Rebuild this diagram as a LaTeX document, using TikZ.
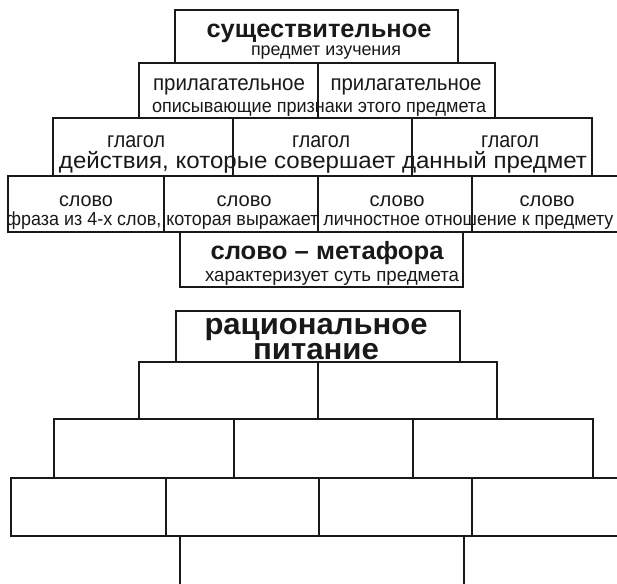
\documentclass[tikz,border=0pt]{standalone}
\usepackage{fontspec}
\usepackage{graphicx}
\setmainfont{Liberation Sans}
\newcommand\fitw[2]{\setbox0=\hbox{#2}\scalebox{\fpeval{#1/\wd0}}[1]{\box0}}
\tikzset{
  brick/.style={draw=black!90, line width=2.7pt, line join=miter},
  lbl/.style={anchor=base, inner sep=0pt, text=black!90},
}
\begin{document}
\begin{tikzpicture}[x=1pt,y=-1pt]
\useasboundingbox[fill=white] (0,0) rectangle (617,583);
% upper pyramid
\draw[brick] (175,10) rectangle (458,63);
\draw[brick] (139,63) rectangle (495,118);
\draw[brick] (318,63) -- (318,118);
\draw[brick] (53,118) rectangle (592,176);
\draw[brick] (233,118) -- (233,176) (412,118) -- (412,176);
\draw[brick] (8,176) rectangle (630,232);
\draw[brick] (164,176) -- (164,232) (318,176) -- (318,232) (472,176) -- (472,232);
\draw[brick] (180,232) rectangle (463,287);
% lower pyramid
\draw[brick] (176,311) rectangle (460,362);
\draw[brick] (139,362) rectangle (497,419);
\draw[brick] (318,362) -- (318,419);
\draw[brick] (54,419) rectangle (593,478);
\draw[brick] (234,419) -- (234,478) (413,419) -- (413,478);
\draw[brick] (11,478) rectangle (630,536);
\draw[brick] (166,478) -- (166,536) (319,478) -- (319,536) (472,478) -- (472,536);
\draw[brick] (180,536) rectangle (464,600);
% texts upper
\node[lbl, align=center, font=\fontsize{18}{18}\selectfont] (n1) at (319,56)
  {\lineskiplimit=-30pt\relax\fitw{225pt}{\bfseries\fontsize{25}{25}\selectfont существительное}\\
   \hspace*{14pt}\fitw{150pt}{предмет изучения}};
\node[lbl, font=\fontsize{22}{22}\selectfont] (a1) at (229,91) {\fitw{152pt}{прилагательное}};
\node[lbl, font=\fontsize{22}{22}\selectfont] (a2) at (406,91) {\fitw{151pt}{прилагательное}};
\node[lbl, font=\fontsize{19}{19}\selectfont] (as) at (319,112) {\fitw{334pt}{описывающие признаки этого предмета}};
\node[lbl, font=\fontsize{22}{22}\selectfont] (g1) at (136,147) {\fitw{58pt}{глагол}};
\node[lbl, font=\fontsize{22}{22}\selectfont] (g2) at (321,147) {\fitw{58pt}{глагол}};
\node[lbl, font=\fontsize{22}{22}\selectfont] (g3) at (510,147) {\fitw{58pt}{глагол}};
\node[lbl, font=\fontsize{23}{23}\selectfont] (gs) at (323,168) {\fitw{528pt}{действия, которые совершает данный предмет}};
\node[lbl, font=\fontsize{20}{20}\selectfont] (s1) at (86,206) {\fitw{54pt}{слово}};
\node[lbl, font=\fontsize{20}{20}\selectfont] (s2) at (244,206) {\fitw{55pt}{слово}};
\node[lbl, font=\fontsize{20}{20}\selectfont] (s3) at (397,206) {\fitw{55pt}{слово}};
\node[lbl, font=\fontsize{20}{20}\selectfont] (s4) at (547,206) {\fitw{55pt}{слово}};
\node[lbl, font=\fontsize{19}{19}\selectfont] (ss) at (310,225) {\fitw{607pt}{фраза из 4-х слов, которая выражает личностное отношение к предмету}};
\node[lbl, font=\bfseries\fontsize{25}{25}\selectfont] (m1) at (327,259) {\fitw{233pt}{слово – метафора}};
\node[lbl, font=\fontsize{19}{19}\selectfont] (ms) at (332,281) {\fitw{254pt}{характеризует суть предмета}};
% texts lower
\node[lbl, align=center, font=\bfseries\fontsize{30}{25}\selectfont] (r1) at (316,359)
  {\lineskiplimit=-30pt\relax\fitw{223pt}{рациональное}\\\fitw{126pt}{питание}};
\end{tikzpicture}
\end{document}
